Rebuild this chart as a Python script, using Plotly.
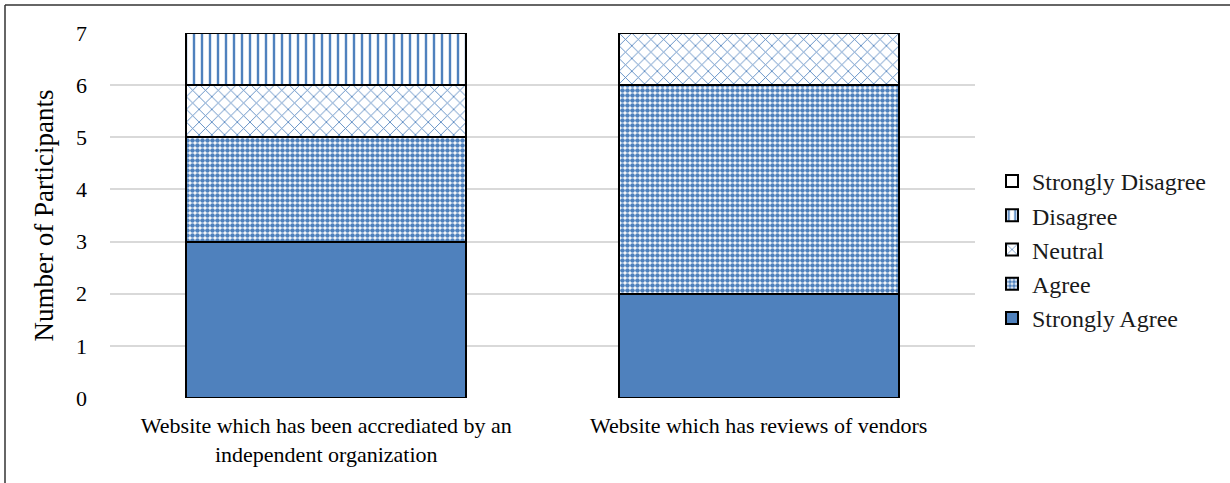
import plotly.graph_objects as go

# Survey responses per website type
categories = [
    "Website which has been accrediated by an<br>independent organization",
    "Website which has reviews of vendors",
]
strongly_agree = [3, 2]
agree = [2, 4]
neutral = [1, 1]
disagree = [1, 0]
strongly_disagree = [0, 0]
y_ticks = [0, 1, 2, 3, 4, 5, 6, 7]

BLUE = "#4F81BD"
FONT = "Liberation Serif"

W, H = 1230, 483
L, R, T, B = 110, 255, 33, 85
pw, ph = W - L - R, H - T - B

series = [
    ("Strongly Agree", strongly_agree, dict(shape="", fgcolor=BLUE, bgcolor=BLUE)),
    ("Agree", agree, dict(shape=".", fgcolor=BLUE, bgcolor="white", size=5, solidity=0.68, fillmode="replace")),
    ("Neutral", neutral, dict(shape="x", fgcolor=BLUE, bgcolor="white", size=9, solidity=0.18, fillmode="replace")),
    ("Disagree", disagree, dict(shape="|", fgcolor=BLUE, bgcolor="white", size=8, solidity=0.3, fillmode="replace")),
    ("Strongly Disagree", strongly_disagree, dict(shape="", fgcolor="white", bgcolor="white")),
]

fig = go.Figure()
for name, vals, pat in series:
    color = BLUE if name == "Strongly Agree" else "white"
    fig.add_trace(go.Bar(
        x=categories, y=vals, name=name,
        marker=dict(color=color, pattern=pat, line=dict(color="black", width=2)),
    ))

# frame lines along the top and left edges of the page
def px_x(p):
    return (p - L) / pw

def px_y(p):
    return (H - B - p) / ph

fig.add_shape(type="line", xref="paper", yref="paper",
              x0=px_x(5), x1=px_x(W + 10), y0=px_y(5), y1=px_y(5),
              line=dict(color="#333333", width=1.5))
fig.add_shape(type="line", xref="paper", yref="paper",
              x0=px_x(5), x1=px_x(5), y0=px_y(5), y1=px_y(H + 10),
              line=dict(color="#333333", width=1.5))

fig.update_layout(
    width=W, height=H,
    margin=dict(l=L, r=R, t=T, b=B),
    barmode="stack", bargap=0.353,
    plot_bgcolor="white", paper_bgcolor="white",
    font=dict(family=FONT, color="black", size=21),
    showlegend=True,
    legend=dict(
        traceorder="reversed",
        x=px_x(992), xanchor="left",
        y=px_y(159), yanchor="top",
        font=dict(family=FONT, size=24, color="#1a1a1a"),
        itemwidth=30, tracegroupgap=0,
        bgcolor="rgba(0,0,0,0)",
    ),
    xaxis=dict(
        showgrid=False, showline=False, zeroline=False,
        tickfont=dict(family=FONT, size=22),
        ticklabelstandoff=12,
    ),
    yaxis=dict(
        range=[0, 7], tickvals=y_ticks, ticktext=[str(v) for v in y_ticks],
        showgrid=True, gridcolor="#d9d9d9", gridwidth=1.5,
        zeroline=False, showline=False,
        tickfont=dict(family=FONT, size=22),
        ticklabelstandoff=22,
        title=dict(text="Number of Participants", font=dict(family=FONT, size=27), standoff=14),
    ),
)

fig.write_html("out.html")
